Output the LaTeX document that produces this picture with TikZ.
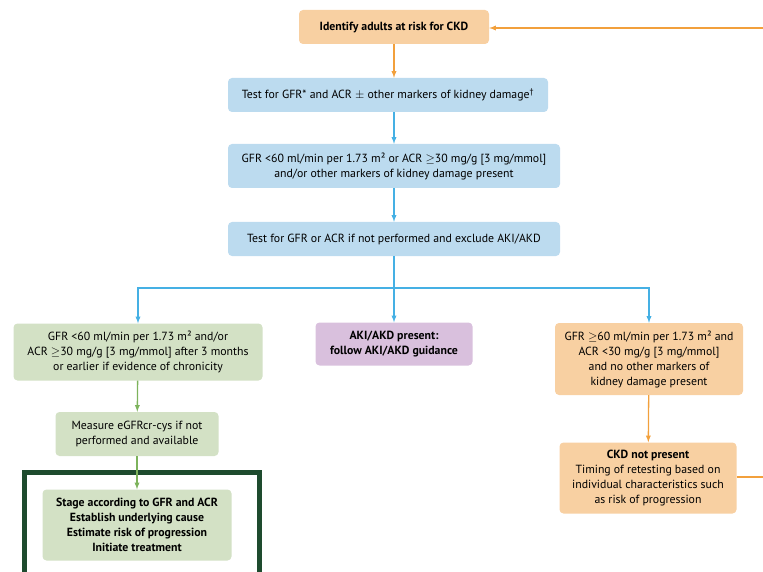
\documentclass[tikz,border=0pt]{standalone}
\usepackage{fontspec}
\setmainfont{PT Sans}
\usetikzlibrary{positioning,arrows}
\definecolor{orangefill}{HTML}{F8D0A2}
\definecolor{orangeline}{HTML}{F2A03C}
\definecolor{bluefill}{HTML}{BCDBEF}
\definecolor{blueline}{HTML}{45B0E4}
\definecolor{greenfill}{HTML}{D3E1C5}
\definecolor{greenline}{HTML}{7DB35C}
\definecolor{purplefill}{HTML}{D9C0DD}
\definecolor{framegreen}{HTML}{1E4B2E}
\newcommand{\atleast}{$\geq$}
\tikzset{
  box/.style={rounded corners=4pt, align=center, inner sep=2pt,
    font=\fontsize{11.8}{15}\selectfont},
  boldbox/.style={font=\bfseries\fontsize{11.8}{15}\selectfont},
  orangebox/.style={box, fill=orangefill},
  bluebox/.style={box, fill=bluefill},
  greenbox/.style={box, fill=greenfill},
  purplebox/.style={box, fill=purplefill},
  orangearrow/.style={orangeline, line width=1.3pt, -latex},
  bluearrow/.style={blueline, line width=1.3pt, -latex},
  greenarrow/.style={greenline, line width=1.3pt, -latex}
}

\begin{document}
\begin{tikzpicture}[x=1pt,y=-1pt]
\useasboundingbox (0,0) rectangle (763,572);
% boxes
\node[orangebox, boldbox, minimum width=190pt, minimum height=34pt] (identify) at (394,27) {Identify adults at risk for CKD};
\node[bluebox, minimum width=320pt, minimum height=34pt] (testgfr) at (388,95) {Test for GFR* and ACR $\pm$ other markers of kidney damage\textsuperscript{\dag}};
\node[bluebox, minimum width=332pt, minimum height=44pt] (gfrlow) at (394,166) {GFR <60 ml/min per 1.73 m² or ACR \atleast30 mg/g [3 mg/mmol]\\and/or other markers of kidney damage present};
\node[bluebox, minimum width=332pt, minimum height=34pt] (testagain) at (394,239) {Test for GFR or ACR if not performed and exclude AKI/AKD};
\node[greenbox, minimum width=249pt, minimum height=57pt] (chronic) at (138,352) {GFR <60 ml/min per 1.73 m² and/or\\ACR \atleast30 mg/g [3 mg/mmol] after 3 months\\or earlier if evidence of chronicity};
\node[purplebox, boldbox, minimum width=157pt, minimum height=43pt] (aki) at (394,344) {AKI/AKD present:\\follow AKI/AKD guidance};
\node[orangebox, minimum width=188pt, minimum height=72pt] (normal) at (649,359) {GFR \atleast60 ml/min per 1.73 m² and\\ACR <30 mg/g [3 mg/mmol]\\and no other markers of\\kidney damage present};
\node[greenbox, minimum width=163pt, minimum height=44pt] (measure) at (137,434) {Measure eGFRcr-cys if not\\performed and available};
\node[greenbox, boldbox, minimum width=189pt, minimum height=71pt] (stage) at (137,525) {Stage according to GFR and ACR\\Establish underlying cause\\Estimate risk of progression\\Initiate treatment};
\node[orangebox, minimum width=177pt, minimum height=71pt] (nockd) at (648,478) {\textbf{CKD not present}\\Timing of retesting based on\\individual characteristics such\\as risk of progression};
% frame round the last step
\draw[framegreen, line width=5pt] (24.5,575) -- (24.5,472.5) -- (259.5,472.5) -- (259.5,575);
% connectors
\coordinate (split) at (394,288);
\coordinate (loopin) at (766,28);
\coordinate (loopout) at (766,477);
\draw[orangearrow] (identify) -- (identify |- testgfr.north);
\draw[bluearrow] (identify |- testgfr.south) -- (gfrlow);
\draw[bluearrow] (gfrlow) -- (testagain);
\draw[bluearrow] (testagain) -- (aki);
\draw[bluearrow] (split) -| (chronic.north);
\draw[bluearrow] (split) -| (normal.north);
\draw[greenarrow] (chronic) -- (measure);
\draw[greenarrow] (measure) -- (stage);
\draw[orangearrow] (normal) -- (nockd);
\draw[orangeline, line width=1.3pt] (nockd.east |- loopout) -- (loopout);
\draw[orangearrow] (loopin) -- (identify.east |- loopin);
\end{tikzpicture}
\end{document}
